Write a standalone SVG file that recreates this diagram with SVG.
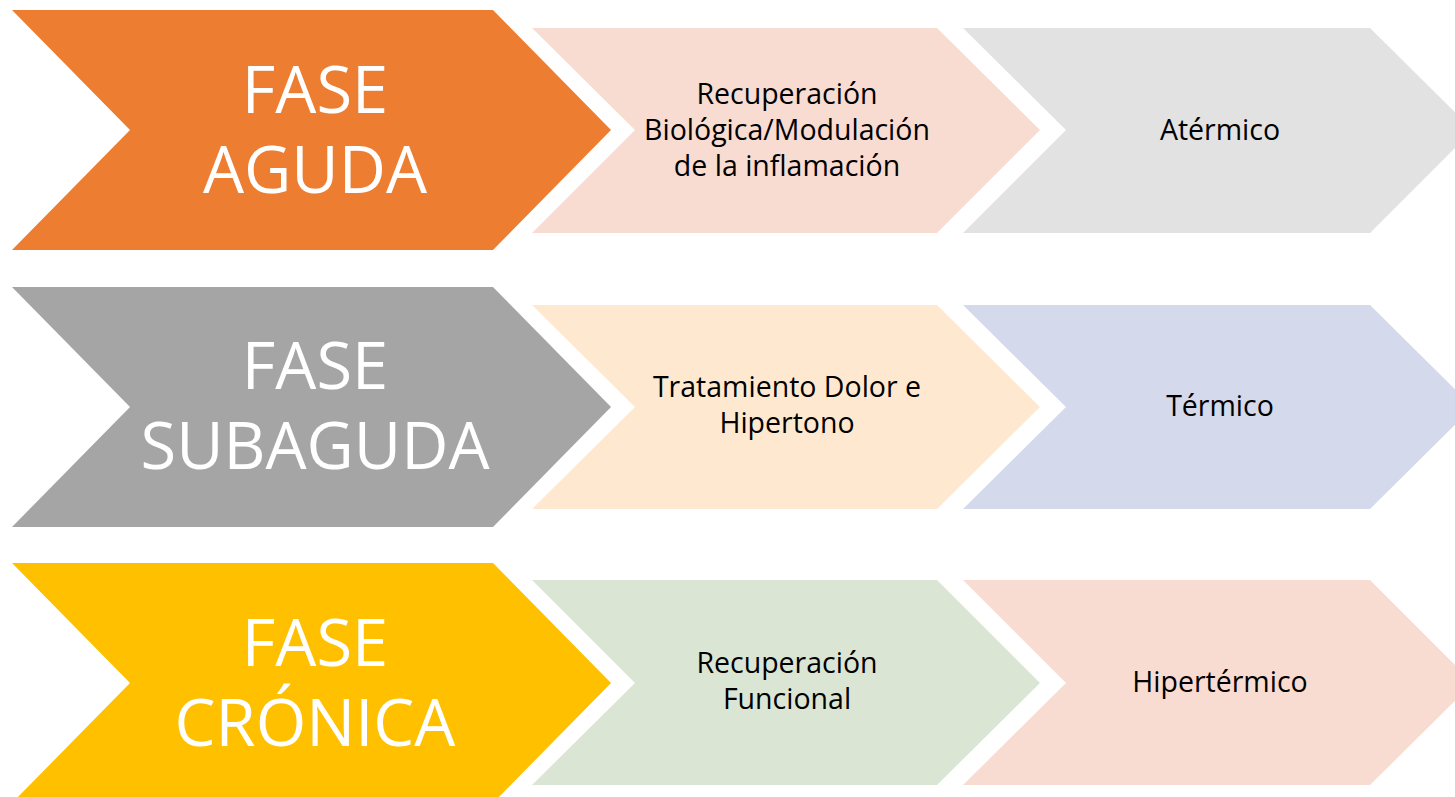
<svg xmlns="http://www.w3.org/2000/svg" width="1455" height="797" viewBox="0 0 1455 797">
<style>
.big{font-family:"Open Sans","Noto Sans",sans-serif;font-size:65px;fill:#FFFFFF;text-anchor:middle}
.sm{font-family:"Open Sans","Noto Sans",sans-serif;font-size:28.5px;fill:#000000;text-anchor:middle}
</style>
<rect width="1455" height="797" fill="#FFFFFF"/>
<g id="row1-phase">
<polygon points="12,10 493,10 611,130 493,250 12,250 130,130" fill="#ED7D31"/>
<text class="big" x="315" y="113">FASE</text>
<text class="big" x="315" y="193">AGUDA</text>
</g>
<g id="row1-goal">
<polygon points="532,28 937,28 1040,130 937,233 532,233 635,130" fill="#F8DBD1"/>
<text class="sm" x="787" y="104">Recuperación</text>
<text class="sm" x="787" y="140">Biológica/Modulación</text>
<text class="sm" x="787" y="176">de la inflamación</text>
</g>
<g id="row1-type">
<polygon points="963,28 1370,28 1473,130 1370,233 963,233 1066,130" fill="#E2E2E2"/>
<text class="sm" x="1220" y="140">Atérmico</text>
</g>
<g id="row2-phase">
<polygon points="12,287 493,287 611,407 493,527 12,527 130,407" fill="#A5A5A5"/>
<text class="big" x="315" y="389">FASE</text>
<text class="big" x="315" y="469">SUBAGUDA</text>
</g>
<g id="row2-goal">
<polygon points="532,305 937,305 1040,407 937,509 532,509 635,407" fill="#FEE9D0"/>
<text class="sm" x="787" y="397">Tratamiento Dolor e</text>
<text class="sm" x="787" y="433">Hipertono</text>
</g>
<g id="row2-type">
<polygon points="963,305 1370,305 1473,407 1370,509 963,509 1066,407" fill="#D4D9EB"/>
<text class="sm" x="1220" y="416">Térmico</text>
</g>
<g id="row3-phase">
<polygon points="12,563 493,563 611,683 493,803 12,803 130,683" fill="#FFC000"/>
<text class="big" x="315" y="666">FASE</text>
<text class="big" x="315" y="746">CRÓNICA</text>
</g>
<g id="row3-goal">
<polygon points="532,580 937,580 1040,683 937,785 532,785 635,683" fill="#DBE5D4"/>
<text class="sm" x="787" y="673">Recuperación</text>
<text class="sm" x="787" y="709">Funcional</text>
</g>
<g id="row3-type">
<polygon points="963,580 1370,580 1473,683 1370,785 963,785 1066,683" fill="#F8DBD1"/>
<text class="sm" x="1220" y="692">Hipertérmico</text>
</g>
<g id="connectors"></g>
</svg>
